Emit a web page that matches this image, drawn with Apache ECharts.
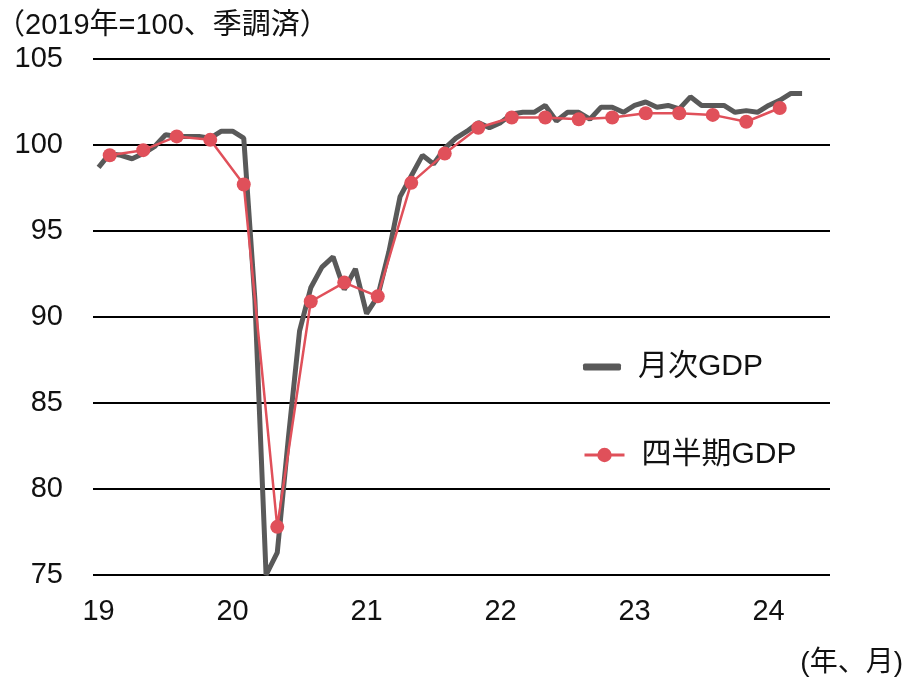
<!DOCTYPE html>
<html><head><meta charset="utf-8">
<script src="https://cdn.jsdelivr.net/npm/echarts@6/dist/echarts.min.js"></script>
<style>html,body{margin:0;padding:0;background:#fff}#c{width:914px;height:679px}</style>
</head><body><div id="c"></div>
<script>
// Categories: months Jan 2019 .. Jun 2024
const months = [];
for (let y = 2019; y <= 2024; y++) for (let m = 1; m <= 12; m++) { if (y === 2024 && m > 6) break; months.push(y + '-' + (m < 10 ? '0' + m : m)); }
const yearLabels = ['19', '20', '21', '22', '23', '24'];
// Monthly GDP (Jan 2019 .. Apr 2024)
const monthlyGDP = [
  98.7, 99.5, 99.4, 99.2, 99.5, 99.9, 100.6, 100.5, 100.5, 100.5, 100.4, 100.8,
  100.8, 100.4, 91.0, 75.0, 76.3, 83.0, 89.2, 91.7, 92.9, 93.5, 91.6, 92.8,
  90.2, 91.2, 93.8, 97.0, 98.2, 99.4, 98.9, 99.8, 100.4, 100.8, 101.3, 101.0,
  101.3, 101.8, 101.9, 101.9, 102.3, 101.4, 101.9, 101.9, 101.5, 102.2, 102.2, 101.9,
  102.3, 102.5, 102.2, 102.3, 102.1, 102.8, 102.3, 102.3, 102.3, 101.9, 102.0, 101.9,
  102.3, 102.6, 103.0, 103.0
];
// Quarterly GDP Q1 2019 .. Q1 2024, plotted at mid-quarter month
const quarterlyGDP = [
  99.4, 99.7, 100.5, 100.3,
  97.7, 77.8, 90.9, 92.0,
  91.2, 97.8, 99.5, 101.0,
  101.6, 101.6, 101.5, 101.6,
  101.85, 101.85, 101.75, 101.35,
  102.15
];
const monthlyData = months.map((m, i) => i < monthlyGDP.length ? monthlyGDP[i] : null);
const quarterlyData = quarterlyGDP.map((v, q) => [months[q * 3 + 1], v]);

const FONT = '"Liberation Sans", Arial, "Noto Sans CJK JP", sans-serif';
const chart = echarts.init(document.getElementById('c'));
chart.setOption({
  backgroundColor: '#fff',
  animation: false,
  textStyle: { fontFamily: FONT, color: '#000' },
  title: [
    { text: '（2019年=100、季調済）', left: -9, top: 6, textStyle: { fontFamily: FONT, fontSize: 29, fontWeight: 'normal', color: '#111' } },
    { text: '(年、月)', right: 6, top: 644, textStyle: { fontFamily: FONT, fontSize: 28, fontWeight: 'normal', color: '#111' } }
  ],
  legend: [
    { data: [{ name: '月次GDP', icon: 'roundRect' }], left: 578, top: 347, itemWidth: 38, itemHeight: 7,
      itemStyle: { color: '#595959' },
      textStyle: { fontFamily: FONT, fontSize: 30, color: '#111', padding: [0, 0, 0, 12] } },
    { data: ['四半期GDP'], left: 578, top: 435, itemWidth: 40, itemHeight: 18,
      lineStyle: { width: 3 },
      textStyle: { fontFamily: FONT, fontSize: 30, color: '#111', padding: [0, 0, 0, 12] } }
  ],
  grid: { left: 93, right: 84, top: 59, bottom: 104, containLabel: false },
  xAxis: {
    type: 'category', data: months, boundaryGap: true,
    axisLine: { show: false }, axisTick: { show: false },
    axisLabel: {
      interval: (idx) => idx % 12 === 0,
      formatter: (v) => yearLabels[(+v.slice(0, 4)) - 2019] || '',
      fontSize: 29, color: '#111', margin: 22, fontFamily: FONT
    },
    splitLine: { show: false }
  },
  yAxis: {
    type: 'value', min: 75, max: 105, interval: 5,
    axisLine: { show: false }, axisTick: { show: false },
    axisLabel: { fontSize: 29, color: '#111', margin: 30, fontFamily: FONT },
    splitLine: { show: true, lineStyle: { color: '#000', width: 2 } }
  },
  series: [
    { name: '月次GDP', type: 'line', data: monthlyData, showSymbol: false, symbol: 'none',
      lineStyle: { color: '#595959', width: 5 }, itemStyle: { color: '#595959' }, z: 2 },
    { name: '四半期GDP', type: 'line', data: quarterlyData, symbol: 'circle', symbolSize: 14,
      showSymbol: true, showAllSymbol: true,
      lineStyle: { color: '#e0505a', width: 2.5 }, itemStyle: { color: '#e0505a' }, z: 3 }
  ]
});
</script></body></html>
